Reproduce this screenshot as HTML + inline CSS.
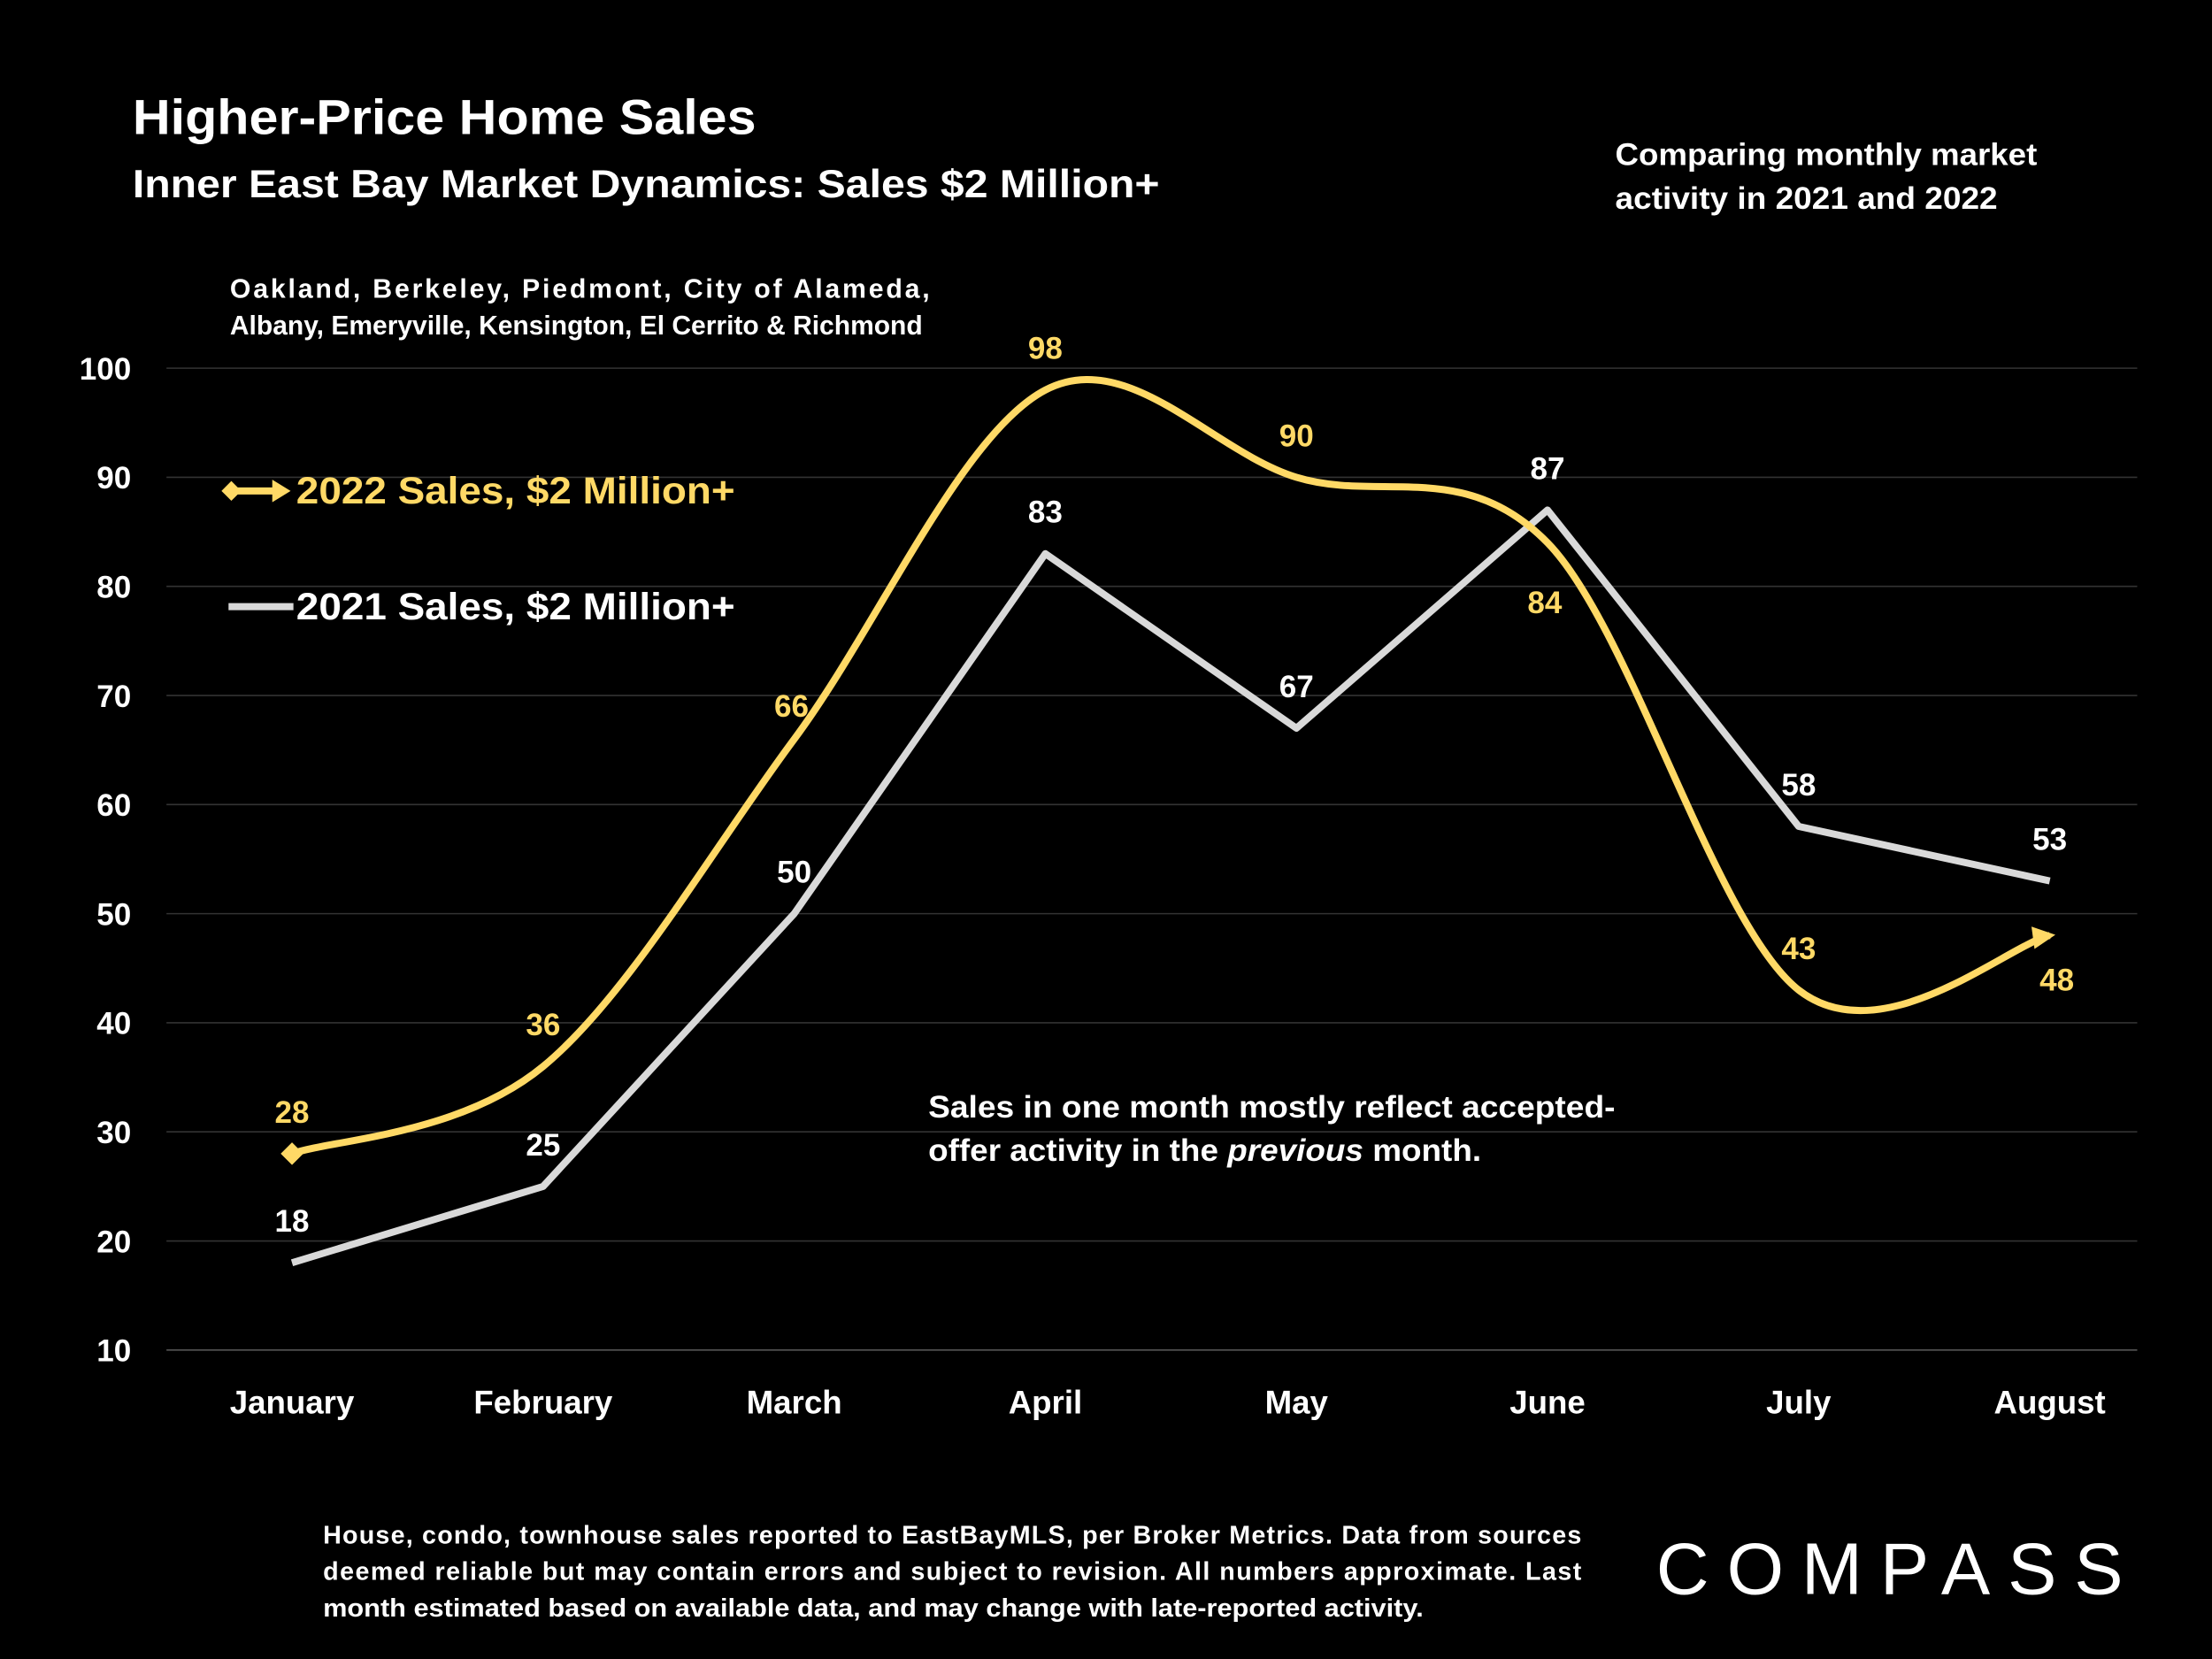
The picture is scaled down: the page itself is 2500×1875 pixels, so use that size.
<!DOCTYPE html>
<html><head><meta charset="utf-8"><style>
html,body{margin:0;padding:0;background:#000;}
svg{display:block;}
text{font-family:"Liberation Sans",sans-serif;font-weight:bold;}
</style></head><body>
<svg id="chart" width="2500" height="1875" viewBox="0 0 1568 1176" xmlns="http://www.w3.org/2000/svg">
<rect width="1568" height="1176" fill="#000"/>
<text x="94" y="95" font-size="35" fill="#fff" textLength="442" lengthAdjust="spacingAndGlyphs">Higher-Price Home Sales</text>
<text x="94" y="140" font-size="28" fill="#fff" textLength="728" lengthAdjust="spacingAndGlyphs">Inner East Bay Market Dynamics: Sales $2 Million+</text>
<text x="1145" y="117" font-size="22" fill="#fff" textLength="299" lengthAdjust="spacingAndGlyphs">Comparing monthly market</text>
<text x="1145" y="148" font-size="22" fill="#fff" textLength="271" lengthAdjust="spacingAndGlyphs">activity in 2021 and 2022</text>
<text x="163" y="211" font-size="19" fill="#fff" textLength="496" lengthAdjust="spacing">Oakland, Berkeley, Piedmont, City of Alameda,</text>
<text x="163" y="237" font-size="19" fill="#fff" textLength="491" lengthAdjust="spacingAndGlyphs">Albany, Emeryville, Kensington, El Cerrito &amp; Richmond</text>
<g id="grid"></g>
<g id="series"></g>
<g>
<line x1="160" y1="348" x2="200" y2="348" stroke="#FFD966" stroke-width="5"/>
<polygon points="157,348 164,341 171,348 164,355" fill="#FFD966"/>
<polygon points="193,340 206,348 193,356" fill="#FFD966"/>
<text x="210" y="357" font-size="27" fill="#FFD966" textLength="311" lengthAdjust="spacingAndGlyphs">2022 Sales, $2 Million+</text>
<line x1="162" y1="430" x2="208" y2="430" stroke="#d9d9d9" stroke-width="5"/>
<text x="210" y="439" font-size="27" fill="#fff" textLength="311" lengthAdjust="spacingAndGlyphs">2021 Sales, $2 Million+</text>
</g>
<text x="658" y="792" font-size="22" fill="#fff" textLength="487" lengthAdjust="spacingAndGlyphs">Sales in one month mostly reflect accepted-</text>
<text x="658" y="823" font-size="22" fill="#fff" textLength="392" lengthAdjust="spacingAndGlyphs">offer activity in the <tspan font-style="italic">previous</tspan> month.</text>
<text x="229" y="1094" font-size="18" fill="#fff" textLength="892" lengthAdjust="spacing">House, condo, townhouse sales reported to EastBayMLS, per Broker Metrics. Data from sources</text>
<text x="229" y="1120" font-size="18" fill="#fff" textLength="892" lengthAdjust="spacing">deemed reliable but may contain errors and subject to revision. All numbers approximate. Last</text>
<text x="229" y="1146" font-size="18" fill="#fff" textLength="780" lengthAdjust="spacingAndGlyphs">month estimated based on available data, and may change with late-reported activity.</text>
<text x="1174" y="1130" font-size="52" fill="#fff" textLength="331" lengthAdjust="spacing" style="font-weight:normal">COMPASS</text>
</svg>
<script>
const months=["January","February","March","April","May","June","July","August"];
const sales2022=[28,36,66,98,90,84,43,48];
const sales2021=[18,25,50,83,67,87,58,53];
const yTicks=[10,20,30,40,50,60,70,80,90,100];
const NS="http://www.w3.org/2000/svg";
const X=i=>207+i*178;
const Y=v=>957-(v-10)*(957-261)/90;
function mk(tag,attrs,parent){const e=document.createElementNS(NS,tag);for(const k in attrs)e.setAttribute(k,attrs[k]);parent.appendChild(e);return e;}
const grid=document.getElementById('grid'),ser=document.getElementById('series');
yTicks.forEach(t=>{
 const l=mk('line',{x1:118,x2:1515,y1:Y(t),y2:Y(t),stroke:t===10?'#555':'#333','stroke-width':1},grid);
 
 
 const tx=mk('text',{x:93,y:Y(t)+8,'font-size':22,fill:'#fff','text-anchor':'end'},grid);tx.textContent=t;
 
 
});
months.forEach((m,i)=>{
 const tx=mk('text',{x:X(i),y:1002,'font-size':23,fill:'#fff','text-anchor':'middle'},grid);tx.textContent=m;
 
 
});
const p21=sales2021.map((v,i)=>[X(i),Y(v)]);
const l21=mk('polyline',{points:p21.map(p=>p.join(',')).join(' '),fill:'none',stroke:'#d9d9d9','stroke-width':5,'stroke-linejoin':'round'},ser);


const p22=sales2022.map((v,i)=>[X(i),Y(v)]);
let d='M'+p22[0].join(',');
for(let i=0;i<p22.length-1;i++){
 const p0=p22[Math.max(i-1,0)],p1=p22[i],p2=p22[i+1],p3=p22[Math.min(i+2,p22.length-1)];
 const c1=[p1[0]+(p2[0]-p0[0])/6,p1[1]+(p2[1]-p0[1])/6];
 const c2=[p2[0]-(p3[0]-p1[0])/6,p2[1]-(p3[1]-p1[1])/6];
 d+=' C'+c1.join(',')+' '+c2.join(',')+' '+p2.join(',');
}
const l22=mk('path',{d:d,fill:'none',stroke:'#FFD966','stroke-width':5},ser);


const [jx,jy]=p22[0];
const dm=mk('polygon',{points:`${jx-8},${jy} ${jx},${jy-8} ${jx+8},${jy} ${jx},${jy+8}`,fill:'#FFD966'},ser);


const n=p22.length-1,[ax,ay]=p22[n],[bx,by]=p22[n-1];
const ang=Math.atan2(ay-by,ax-bx)*180/Math.PI;
const ar=mk('polygon',{points:`${ax+4},${ay} ${ax-12},${ay-8} ${ax-12},${ay+8}`,fill:'#FFD966',transform:`rotate(${ang/1.6},${ax},${ay})`},ser);


const off22=[[0,-30],[0,-30],[-2,-24],[0,-30],[0,-30],[-2,42],[0,-30],[5,31]];
sales2022.forEach((v,i)=>{
 const t=mk('text',{x:X(i)+off22[i][0],y:Y(v)+off22[i][1]+8,'font-size':22,fill:'#FFD966','text-anchor':'middle'},ser);t.textContent=v;
 
 
});
sales2021.forEach((v,i)=>{
 const t=mk('text',{x:X(i),y:Y(v)-30+8,'font-size':22,fill:'#fff','text-anchor':'middle'},ser);t.textContent=v;
 
 
});
</script>
</body></html>
